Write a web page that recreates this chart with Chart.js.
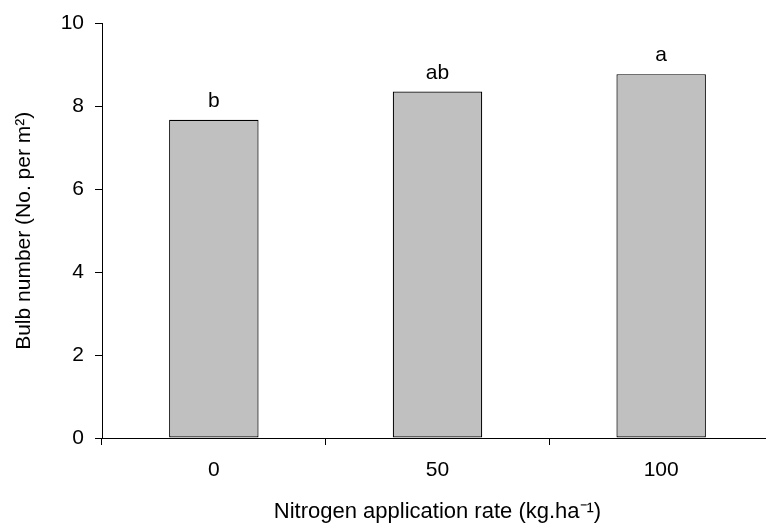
<!DOCTYPE html>
<html>
<head>
<meta charset="utf-8">
<script src="https://cdn.jsdelivr.net/npm/chart.js@4"></script>
<style>
  html, body { margin: 0; padding: 0; background: #fff; overflow: hidden; }
  #wrap { width: 776px; height: 525px; }
</style>
</head>
<body>
<div id="wrap"><canvas id="bulbChart"></canvas></div>
<script>
const rates = ["0", "50", "100"];
const bulbNumber = [7.68, 8.36, 8.78];
const letters = ["b", "ab", "a"];
const yTicks = [0, 2, 4, 6, 8, 10];

const FONT = "'Liberation Sans', Arial, sans-serif";
Chart.defaults.color = "#000";
Chart.defaults.font.family = FONT;
Chart.defaults.font.size = 21;

// letters of significance above each bar
const letterPlugin = {
  id: "letters",
  afterDatasetsDraw(chart) {
    const ctx = chart.ctx;
    const meta = chart.getDatasetMeta(0);
    ctx.save();
    ctx.font = "21px " + FONT;
    ctx.fillStyle = "#000";
    ctx.textAlign = "center";
    ctx.textBaseline = "alphabetic";
    meta.data.forEach((bar, i) => {
      ctx.fillText(letters[i], bar.x, bar.y - 13);
    });
    ctx.restore();
  }
};

new Chart(document.getElementById("bulbChart"), {
  type: "bar",
  data: {
    labels: rates,
    datasets: [{
      data: bulbNumber,
      backgroundColor: "#c0c0c0",
      borderColor: "#000",
      borderWidth: 1.2,
      borderSkipped: false,
      categoryPercentage: 0.4,
      barPercentage: 1
    }]
  },
  options: {
    responsive: true,
    maintainAspectRatio: false,
    animation: false,
    layout: { padding: { top: 22, right: 3, left: 0, bottom: 0 } },
    plugins: {
      legend: { display: false },
      tooltip: { enabled: false }
    },
    scales: {
      x: {
        afterFit(scale) { scale.height = 87; },
        border: { color: "#000", width: 1 },
        grid: { drawOnChartArea: false, drawTicks: true, tickLength: 7, color: "#000" },
        ticks: { padding: 13, font: { size: 21 } },
        title: {
          display: true,
          text: "Nitrogen application rate (kg.ha\u207B\u00B9)",
          font: { size: 22 },
          padding: { top: 0, bottom: 0 }
        }
      },
      y: {
        min: 0,
        max: 10,
        afterFit(scale) { scale.width = 102; },
        afterBuildTicks(scale) { scale.ticks = yTicks.map(v => ({ value: v })); },
        border: { color: "#000", width: 1 },
        grid: { drawOnChartArea: false, drawTicks: true, tickLength: 7, color: "#000" },
        ticks: { padding: 11, font: { size: 21 } },
        title: {
          display: true,
          text: "Bulb number (No. per m\u00B2)",
          font: { size: 21 },
          padding: { top: 12, bottom: 0 }
        }
      }
    }
  },
  plugins: [letterPlugin]
});
</script>
</body>
</html>
